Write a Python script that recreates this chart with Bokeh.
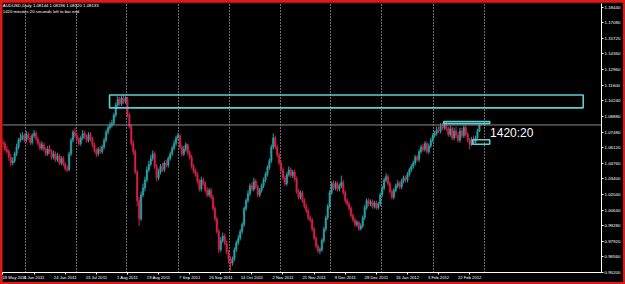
from bokeh.plotting import figure
from bokeh.models import Range1d, FixedTicker, Span, Label, Grid
from bokeh.layouts import column
from bokeh.embed import file_html
from bokeh.resources import INLINE
from bokeh.core.properties import value

# ---------------- data ----------------
title_line1 = "AUDUSD,Daily  1.08144 1.08196 1.08120 1.08133"
title_line2 = "1420 minutes 20 seconds left to bar end"
timer_text = "1420:20"
bid_price = 1.08133
bid_label = "1.08133"

opens = [
    1.0660, 1.0647, 1.0600, 1.0580, 1.0530, 1.0480, 1.0500, 1.0560, 1.0620, 1.0680,
    1.0700, 1.0720, 1.0680, 1.0730, 1.0700, 1.0660, 1.0720, 1.0740, 1.0690, 1.0650,
    1.0610, 1.0640, 1.0600, 1.0560, 1.0600, 1.0580, 1.0530, 1.0560, 1.0510, 1.0540,
    1.0480, 1.0520, 1.0470, 1.0430, 1.0420, 1.0560, 1.0680, 1.0750, 1.0720, 1.0690,
    1.0650, 1.0700, 1.0740, 1.0710, 1.0680, 1.0730, 1.0690, 1.0640, 1.0590, 1.0560,
    1.0600, 1.0580, 1.0620, 1.0680, 1.0750, 1.0790, 1.0810, 1.0830, 1.0900, 1.0990,
    1.1040, 1.1000, 1.1050, 1.1020, 1.1040, 1.0900, 1.0800, 1.0650, 1.0580, 1.0400,
    1.0150, 0.9990, 1.0200, 1.0260, 1.0330, 1.0420, 1.0470, 1.0520, 1.0560, 1.0450,
    1.0350, 1.0400, 1.0450, 1.0420, 1.0480, 1.0460, 1.0520, 1.0560, 1.0610, 1.0650,
    1.0700, 1.0720, 1.0620, 1.0560, 1.0600, 1.0640, 1.0570, 1.0530, 1.0450, 1.0410,
    1.0380, 1.0320, 1.0250, 1.0330, 1.0300, 1.0240, 1.0200, 1.0240, 1.0180, 1.0080,
    0.9990, 0.9880, 0.9720, 0.9800, 0.9840, 0.9780, 0.9700, 0.9640, 0.9600, 0.9640,
    0.9720, 0.9780, 0.9820, 0.9880, 0.9940, 1.0080, 1.0150, 1.0210, 1.0280, 1.0250,
    1.0320, 1.0270, 1.0200, 1.0240, 1.0280, 1.0330, 1.0380, 1.0440, 1.0500, 1.0620,
    1.0700, 1.0620, 1.0550, 1.0480, 1.0420, 1.0350, 1.0300, 1.0380, 1.0420, 1.0370,
    1.0400, 1.0340, 1.0230, 1.0180, 1.0220, 1.0150, 1.0100, 1.0060, 1.0000, 0.9980,
    0.9900, 0.9820, 0.9750, 0.9710, 0.9720, 0.9800, 0.9900, 1.0000, 1.0100, 1.0220,
    1.0300, 1.0260, 1.0300, 1.0250, 1.0280, 1.0310, 1.0220, 1.0150, 1.0120, 1.0080,
    1.0020, 0.9980, 0.9940, 0.9960, 0.9900, 0.9930, 1.0000, 1.0090, 1.0150, 1.0120,
    1.0140, 1.0100, 1.0130, 1.0090, 1.0120, 1.0200, 1.0260, 1.0330, 1.0360, 1.0300,
    1.0230, 1.0180, 1.0240, 1.0280, 1.0300, 1.0270, 1.0320, 1.0350, 1.0330, 1.0380,
    1.0420, 1.0450, 1.0480, 1.0530, 1.0510, 1.0580, 1.0620, 1.0600, 1.0650, 1.0580,
    1.0630, 1.0680, 1.0720, 1.0740, 1.0770, 1.0760, 1.0800, 1.0790, 1.0820, 1.0780,
    1.0730, 1.0780, 1.0700, 1.0760, 1.0720, 1.0680, 1.0760, 1.0720, 1.0790, 1.0730,
    1.0680, 1.0640, 1.0690, 1.0660, 1.0700, 1.0760, 1.08144,
]
highs = [
    1.0690, 1.0670, 1.0630, 1.0600, 1.0560, 1.0530, 1.0580, 1.0650, 1.0700, 1.0740,
    1.0750, 1.0740, 1.0760, 1.0750, 1.0720, 1.0740, 1.0770, 1.0760, 1.0710, 1.0670,
    1.0670, 1.0660, 1.0620, 1.0630, 1.0640, 1.0600, 1.0590, 1.0580, 1.0570, 1.0560,
    1.0540, 1.0540, 1.0490, 1.0460, 1.0580, 1.0700, 1.0770, 1.0790, 1.0740, 1.0710,
    1.0720, 1.0770, 1.0760, 1.0730, 1.0750, 1.0750, 1.0710, 1.0660, 1.0610, 1.0620,
    1.0630, 1.0640, 1.0700, 1.0770, 1.0810, 1.0840, 1.0860, 1.0920, 1.1010, 1.1065,
    1.1060, 1.1070, 1.1075, 1.1065, 1.1060, 1.0920, 1.0820, 1.0680, 1.0600, 1.0420,
    1.0180, 1.0230, 1.0300, 1.0360, 1.0450, 1.0500, 1.0550, 1.0590, 1.0580, 1.0470,
    1.0430, 1.0470, 1.0480, 1.0500, 1.0510, 1.0540, 1.0580, 1.0630, 1.0680, 1.0720,
    1.0745, 1.0730, 1.0640, 1.0630, 1.0660, 1.0650, 1.0590, 1.0550, 1.0470, 1.0430,
    1.0400, 1.0340, 1.0360, 1.0350, 1.0320, 1.0270, 1.0260, 1.0260, 1.0200, 1.0100,
    1.0010, 0.9900, 0.9830, 0.9870, 0.9860, 0.9800, 0.9720, 0.9660, 0.9660, 0.9740,
    0.9800, 0.9850, 0.9900, 0.9960, 1.0100, 1.0170, 1.0240, 1.0300, 1.0310, 1.0350,
    1.0340, 1.0290, 1.0260, 1.0300, 1.0350, 1.0400, 1.0460, 1.0520, 1.0640, 1.0740,
    1.0720, 1.0640, 1.0570, 1.0500, 1.0440, 1.0370, 1.0400, 1.0450, 1.0440, 1.0420,
    1.0420, 1.0360, 1.0250, 1.0240, 1.0240, 1.0170, 1.0120, 1.0080, 1.0020, 1.0000,
    0.9920, 0.9840, 0.9770, 0.9740, 0.9820, 0.9920, 1.0020, 1.0120, 1.0240, 1.0320,
    1.0330, 1.0320, 1.0320, 1.0300, 1.0370, 1.0330, 1.0240, 1.0170, 1.0140, 1.0100,
    1.0040, 1.0000, 0.9980, 0.9970, 0.9950, 1.0020, 1.0110, 1.0170, 1.0170, 1.0160,
    1.0160, 1.0150, 1.0150, 1.0140, 1.0220, 1.0280, 1.0350, 1.0390, 1.0380, 1.0320,
    1.0250, 1.0260, 1.0300, 1.0330, 1.0320, 1.0340, 1.0370, 1.0370, 1.0400, 1.0440,
    1.0470, 1.0500, 1.0550, 1.0550, 1.0600, 1.0640, 1.0650, 1.0670, 1.0670, 1.0650,
    1.0700, 1.0740, 1.0760, 1.0800, 1.0800, 1.0830, 1.0830, 1.0845, 1.0840, 1.0800,
    1.0810, 1.0800, 1.0790, 1.0800, 1.0750, 1.0790, 1.0790, 1.0810, 1.0810, 1.0750,
    1.0700, 1.0710, 1.0720, 1.0720, 1.0780, 1.0822, 1.08196,
]
lows = [
    1.0620, 1.0580, 1.0560, 1.0500, 1.0450, 1.0460, 1.0480, 1.0540, 1.0600, 1.0660,
    1.0680, 1.0660, 1.0660, 1.0680, 1.0640, 1.0640, 1.0700, 1.0670, 1.0630, 1.0590,
    1.0590, 1.0580, 1.0540, 1.0540, 1.0560, 1.0510, 1.0510, 1.0490, 1.0490, 1.0460,
    1.0460, 1.0450, 1.0410, 1.0400, 1.0410, 1.0540, 1.0660, 1.0700, 1.0670, 1.0630,
    1.0630, 1.0680, 1.0690, 1.0660, 1.0660, 1.0670, 1.0620, 1.0570, 1.0530, 1.0540,
    1.0560, 1.0560, 1.0600, 1.0660, 1.0730, 1.0770, 1.0790, 1.0810, 1.0880, 1.0970,
    1.0980, 1.0980, 1.1000, 1.1000, 1.0880, 1.0780, 1.0630, 1.0550, 1.0380, 1.0100,
    0.9927, 0.9970, 1.0180, 1.0230, 1.0310, 1.0400, 1.0450, 1.0500, 1.0430, 1.0320,
    1.0330, 1.0380, 1.0400, 1.0400, 1.0440, 1.0440, 1.0500, 1.0540, 1.0590, 1.0630,
    1.0680, 1.0600, 1.0540, 1.0540, 1.0580, 1.0550, 1.0510, 1.0430, 1.0390, 1.0360,
    1.0300, 1.0230, 1.0230, 1.0280, 1.0220, 1.0180, 1.0180, 1.0160, 1.0060, 0.9970,
    0.9860, 0.9690, 0.9700, 0.9780, 0.9760, 0.9680, 0.9600, 0.9537, 0.9580, 0.9620,
    0.9700, 0.9760, 0.9800, 0.9860, 0.9920, 1.0060, 1.0130, 1.0190, 1.0230, 1.0230,
    1.0250, 1.0180, 1.0180, 1.0220, 1.0260, 1.0310, 1.0360, 1.0420, 1.0480, 1.0600,
    1.0600, 1.0530, 1.0460, 1.0400, 1.0330, 1.0280, 1.0280, 1.0360, 1.0350, 1.0350,
    1.0320, 1.0210, 1.0160, 1.0160, 1.0130, 1.0080, 1.0040, 0.9980, 0.9960, 0.9880,
    0.9800, 0.9730, 0.9690, 0.9680, 0.9700, 0.9780, 0.9880, 0.9980, 1.0080, 1.0200,
    1.0240, 1.0240, 1.0230, 1.0230, 1.0260, 1.0200, 1.0130, 1.0100, 1.0060, 1.0000,
    0.9960, 0.9920, 0.9920, 0.9884, 0.9890, 0.9910, 0.9980, 1.0070, 1.0100, 1.0100,
    1.0080, 1.0080, 1.0070, 1.0070, 1.0100, 1.0180, 1.0240, 1.0310, 1.0280, 1.0210,
    1.0160, 1.0160, 1.0220, 1.0260, 1.0250, 1.0250, 1.0300, 1.0310, 1.0310, 1.0360,
    1.0400, 1.0430, 1.0460, 1.0490, 1.0490, 1.0560, 1.0580, 1.0580, 1.0560, 1.0560,
    1.0610, 1.0660, 1.0700, 1.0720, 1.0740, 1.0740, 1.0770, 1.0770, 1.0760, 1.0710,
    1.0710, 1.0680, 1.0680, 1.0700, 1.0660, 1.0660, 1.0700, 1.0700, 1.0710, 1.0660,
    1.0600, 1.0630, 1.0645, 1.0650, 1.0690, 1.0750, 1.08120,
]
closes = [
    1.0647, 1.0600, 1.0580, 1.0530, 1.0480, 1.0500, 1.0560, 1.0620, 1.0680, 1.0700,
    1.0720, 1.0680, 1.0730, 1.0700, 1.0660, 1.0720, 1.0740, 1.0690, 1.0650, 1.0610,
    1.0640, 1.0600, 1.0560, 1.0600, 1.0580, 1.0530, 1.0560, 1.0510, 1.0540, 1.0480,
    1.0520, 1.0470, 1.0430, 1.0420, 1.0560, 1.0680, 1.0750, 1.0720, 1.0690, 1.0650,
    1.0700, 1.0740, 1.0710, 1.0680, 1.0730, 1.0690, 1.0640, 1.0590, 1.0560, 1.0600,
    1.0580, 1.0620, 1.0680, 1.0750, 1.0790, 1.0810, 1.0830, 1.0900, 1.0990, 1.1040,
    1.1000, 1.1050, 1.1020, 1.1040, 1.0900, 1.0800, 1.0650, 1.0580, 1.0400, 1.0150,
    0.9990, 1.0200, 1.0260, 1.0330, 1.0420, 1.0470, 1.0520, 1.0560, 1.0450, 1.0350,
    1.0400, 1.0450, 1.0420, 1.0480, 1.0460, 1.0520, 1.0560, 1.0610, 1.0650, 1.0700,
    1.0720, 1.0620, 1.0560, 1.0600, 1.0640, 1.0570, 1.0530, 1.0450, 1.0410, 1.0380,
    1.0320, 1.0250, 1.0330, 1.0300, 1.0240, 1.0200, 1.0240, 1.0180, 1.0080, 0.9990,
    0.9880, 0.9720, 0.9800, 0.9840, 0.9780, 0.9700, 0.9640, 0.9600, 0.9640, 0.9720,
    0.9780, 0.9820, 0.9880, 0.9940, 1.0080, 1.0150, 1.0210, 1.0280, 1.0250, 1.0320,
    1.0270, 1.0200, 1.0240, 1.0280, 1.0330, 1.0380, 1.0440, 1.0500, 1.0620, 1.0700,
    1.0620, 1.0550, 1.0480, 1.0420, 1.0350, 1.0300, 1.0380, 1.0420, 1.0370, 1.0400,
    1.0340, 1.0230, 1.0180, 1.0220, 1.0150, 1.0100, 1.0060, 1.0000, 0.9980, 0.9900,
    0.9820, 0.9750, 0.9710, 0.9720, 0.9800, 0.9900, 1.0000, 1.0100, 1.0220, 1.0300,
    1.0260, 1.0300, 1.0250, 1.0280, 1.0310, 1.0220, 1.0150, 1.0120, 1.0080, 1.0020,
    0.9980, 0.9940, 0.9960, 0.9900, 0.9930, 1.0000, 1.0090, 1.0150, 1.0120, 1.0140,
    1.0100, 1.0130, 1.0090, 1.0120, 1.0200, 1.0260, 1.0330, 1.0360, 1.0300, 1.0230,
    1.0180, 1.0240, 1.0280, 1.0300, 1.0270, 1.0320, 1.0350, 1.0330, 1.0380, 1.0420,
    1.0450, 1.0480, 1.0530, 1.0510, 1.0580, 1.0620, 1.0600, 1.0650, 1.0580, 1.0630,
    1.0680, 1.0720, 1.0740, 1.0770, 1.0760, 1.0800, 1.0790, 1.0820, 1.0780, 1.0730,
    1.0780, 1.0700, 1.0760, 1.0720, 1.0680, 1.0760, 1.0720, 1.0790, 1.0730, 1.0680,
    1.0640, 1.0690, 1.0660, 1.0700, 1.0760, 1.0814, 1.08133,
]

date_labels = ["18 May 2011", "6 Jun 2011", "24 Jun 2011", "13 Jul 2011", "1 Aug 2011",
               "19 Aug 2011", "7 Sep 2011", "26 Sep 2011", "14 Oct 2011", "2 Nov 2011",
               "21 Nov 2011", "9 Dec 2011", "28 Dec 2011", "16 Jan 2012", "3 Feb 2012",
               "22 Feb 2012"]
date_label_bars = [0, 16, 32, 48, 64, 80, 96, 112, 128, 144, 160, 176, 192, 208, 224, 240]
grid_bars = [11.5, 37.6, 63.7, 90.3, 116.4, 142.5, 168.6, 194.7, 221.3, 247.4]

price_ticks = [1.18440, 1.17080, 1.15720, 1.14360, 1.12960, 1.11600, 1.10240, 1.08880,
               1.07480, 1.06120, 1.04760, 1.03400, 1.02040, 1.00640, 0.99280, 0.97920,
               0.96560, 0.95200]
price_tick_labels = ["1.18440", "1.17080", "1.15720", "1.14360", "1.12960", "1.11600",
                     "1.10240", "1.08880", "1.07480", "1.06120", "1.04760", "1.03400",
                     "1.02040", "1.00640", "0.99280", "0.97920", "0.96560", "0.95200"]

# drawn zones (rectangles): bar index / price
zone_left = [54.8, 226.7, 241.6]
zone_right = [298.4, 250.3, 250.3]
zone_top = [1.10764, 1.08440, 1.06844]
zone_bottom = [1.09637, 1.08256, 1.06445]

# ---------------- figure ----------------
BULL = "#2aa0a4"
BEAR = "#d3204a"
ZONE = "#5ad2d2"
FONT = "Liberation Sans"

p = figure(width=621, height=280, output_backend="svg", toolbar_location=None,
           x_range=Range1d(-0.256, 307.8), y_range=Range1d(0.95196, 1.18787),
           x_axis_location="below", y_axis_location="right",
           min_border_left=0, min_border_top=1, min_border_right=19, min_border_bottom=7)
p.background_fill_color = "black"
p.border_fill_color = "black"
p.outline_line_color = None
p.ygrid.visible = False
p.xgrid.ticker = FixedTicker(ticks=grid_bars)
p.xgrid.grid_line_color = "#d8d8d8"
p.xgrid.grid_line_dash = "1 2"
p.xgrid.grid_line_width = 1

xa = p.xaxis[0]
xa.ticker = FixedTicker(ticks=date_label_bars)
xa.major_label_overrides = {b: l for b, l in zip(date_label_bars, date_labels)}
xa.axis_line_color = "white"
xa.major_tick_line_color = "white"
xa.major_tick_out = 2
xa.major_tick_in = 0
xa.minor_tick_line_color = None
xa.major_label_standoff = 0
xa.major_label_text_align = "left"
xa.major_label_text_color = "white"
xa.major_label_text_font = FONT
xa.major_label_text_font_size = "4.2px"

ya = p.yaxis[0]
ya.ticker = FixedTicker(ticks=price_ticks)
ya.major_label_overrides = {t: l for t, l in zip(price_ticks, price_tick_labels)}
ya.axis_line_color = "white"
ya.major_tick_line_color = "white"
ya.major_tick_out = 2
ya.major_tick_in = 0
ya.minor_tick_line_color = None
ya.major_label_standoff = 1
ya.major_label_text_color = "white"
ya.major_label_text_font = FONT
ya.major_label_text_font_size = "4.4px"

idx = list(range(len(closes)))
bull = [i for i in idx if closes[i] >= opens[i] and i != len(closes) - 1]
bear = [i for i in idx if i not in bull]

for sel, col in ((bull, BULL), (bear, BEAR)):
    xs = [idx[i] for i in sel]
    p.segment(x0=xs, y0=[lows[i] for i in sel], x1=xs, y1=[highs[i] for i in sel],
              line_color=col, line_width=1)
    p.vbar(x=xs, width=0.75,
           top=[max(opens[i], closes[i]) for i in sel],
           bottom=[min(opens[i], closes[i]) for i in sel],
           fill_color=col, line_color=col, line_width=0.5)

# bid line
p.add_layout(Span(location=bid_price, dimension="width", line_color="#8a8a8a", line_width=1))

# zones
p.quad(left=zone_left, right=zone_right, top=zone_top, bottom=zone_bottom,
       fill_color=None, line_color=ZONE, line_width=1.6)

# texts
p.text(x=[-0.1, -0.1], y=[1.1864, 1.1812], text=[title_line1, title_line2],
       text_font=value(FONT), text_font_size="4.3px", text_color="white",
       text_baseline="middle", text_align="left")
p.text(x=[250.5], y=[1.07443], text=[timer_text], text_font=value(FONT),
       text_font_size="12px", text_color="white", text_baseline="middle", text_align="left")

p.add_layout(Label(x=605, x_units="screen", y=bid_price, y_units="data", text=bid_label,
                   text_font=FONT, text_font_size="4.4px", text_color="black",
                   text_baseline="middle", background_fill_color="#c8c8c8"))

layout = column(p, styles={"background-color": "#dc1a1a", "padding": "2px"})

open("out.html", "w").write(file_html(layout, INLINE))
